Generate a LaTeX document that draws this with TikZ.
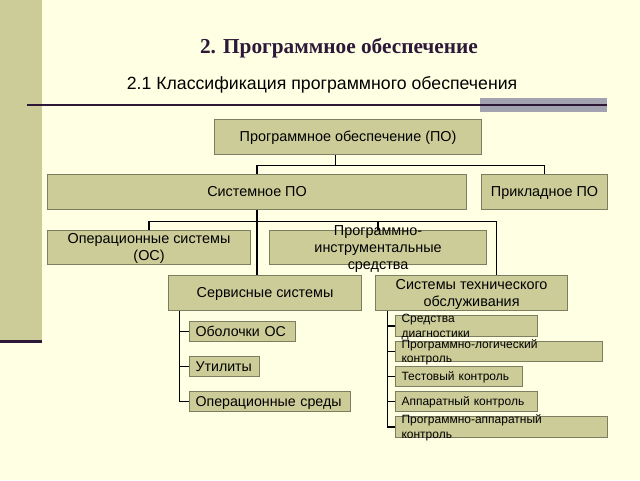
\documentclass[tikz,border=0pt]{standalone}
\usepackage{fontspec}
\setmainfont{Liberation Sans}
\newfontfamily\titlefont{Liberation Serif}
\definecolor{paper}{RGB}{255,255,228}
\definecolor{boxfill}{RGB}{204,204,153}
\definecolor{boxline}{RGB}{125,125,98}
\definecolor{plum}{RGB}{45,25,55}
\definecolor{bargray}{RGB}{162,162,176}
% box text: lines kept out of the box size, as in the slide
\newcommand\ml[2][c]{\smash{\raisebox{-0.33em}{\begin{tabular}{@{}#1@{}}#2\end{tabular}}}}
\begin{document}
\begin{tikzpicture}[x=1pt,y=-1pt,
  box/.style={draw=boxline,fill=boxfill,line width=1.1pt,anchor=north west,inner sep=0pt,
    font=\fontsize{14.4}{17}\selectfont},
  lbox/.style={box,inner xsep=6pt,align=left,text width=#1},
  link/.style={line width=1.2pt}]
\useasboundingbox (0,0) rectangle (640,480);
% Draw the page
\fill[paper] (0,0) rectangle (640,480);
\fill[boxfill] (0,0) rectangle (42,340);
\fill[plum] (0,340) rectangle (42,343);
\fill[bargray] (480,98) rectangle (607,112);
\draw[plum,line width=1.6pt] (27,105) -- (607,105);
% Titles
\node[font=\titlefont\bfseries\fontsize{21.3}{25}\selectfont,text=plum] (title) at (339,48) {2. Программное обеспечение};
\node[font=\fontsize{17.7}{21}\selectfont] (subtitle) at (322,85) {2.1 Классификация программного обеспечения};

% Draw the boxes, top to bottom
\node[box,minimum width=267,minimum height=35] (po) at (214,119) {\ml{Программное обеспечение (ПО)}};
\node[box,minimum width=419,minimum height=35] (sys) at (47,174) {\ml{Системное ПО}};
\node[box,minimum width=126,minimum height=35] (app) at (481,174) {\ml{Прикладное ПО}};
\node[box,minimum width=203,minimum height=34] (os) at (47,230) {\ml{Операционные системы\\(ОС)}};
\node[box,minimum width=217,minimum height=34] (inst) at (269,230) {\ml{Программно-\\инструментальные\\средства}};
\node[box,minimum width=193,minimum height=35] (serv) at (168,275) {\ml{Сервисные системы}};
\node[box,minimum width=192,minimum height=35] (tech) at (375,275) {\ml{Системы технического\\обслуживания}};
% Service systems
\node[lbox=94,minimum height=20,font=\fontsize{14.2}{17}\selectfont] (shell) at (189,321) {\ml[l]{Оболочки ОС}};
\node[lbox=58,minimum height=20,font=\fontsize{14.2}{17}\selectfont] (util) at (189,356) {\ml[l]{Утилиты}};
\node[lbox=149,minimum height=20,font=\fontsize{14.2}{17}\selectfont] (env) at (189,391) {\ml[l]{Операционные среды}};
% Maintenance systems
\node[lbox=130,minimum height=21,font=\fontsize{12}{14.5}\selectfont] (diag) at (395,315) {\ml[l]{Средства\\диагностики}};
\node[lbox=195,minimum height=20,font=\fontsize{12}{14.5}\selectfont] (swlog) at (395,341) {\ml[l]{Программно-логический\\контроль}};
\node[lbox=115,minimum height=20,font=\fontsize{12}{14.5}\selectfont] (test) at (395,366) {\ml[l]{Тестовый контроль}};
\node[lbox=130,minimum height=20,font=\fontsize{12}{14.5}\selectfont] (hw) at (395,391) {\ml[l]{Аппаратный контроль}};
\node[lbox=200,minimum height=21,font=\fontsize{12}{14.5}\selectfont] (hwsw) at (395,416) {\ml[l]{Программно-аппаратный\\контроль}};

% Connect software to its two kinds
\draw[link] ([xshift=-12.5pt]po.south) -- ++(0,10) coordinate (b0);
\draw[link] (sys.north) |- (b0) -| (app.north);
% Connect system software
\draw[link] (sys.south) -- (sys.south |- serv.north);
\path (sys.south) ++(0,11) coordinate (b1);
\draw[link] (os.north) |- (b1) -| ([xshift=25pt]tech.north);
\draw[link] (inst.north) -- (inst.north |- b1);
% Service systems, left branch
\draw[link] ([xshift=-85.5pt]serv.south) coordinate (b2) |- (env.west);
\foreach \n in {shell,util}
  \draw[link] (b2 |- \n.west) -- (\n.west);
% Maintenance systems, right branch
\draw[link] ([xshift=-84pt]tech.south) coordinate (b3) |- (hwsw.west);
\foreach \n in {diag,swlog,test,hw}
  \draw[link] (b3 |- \n.west) -- (\n.west);
\end{tikzpicture}
\end{document}
